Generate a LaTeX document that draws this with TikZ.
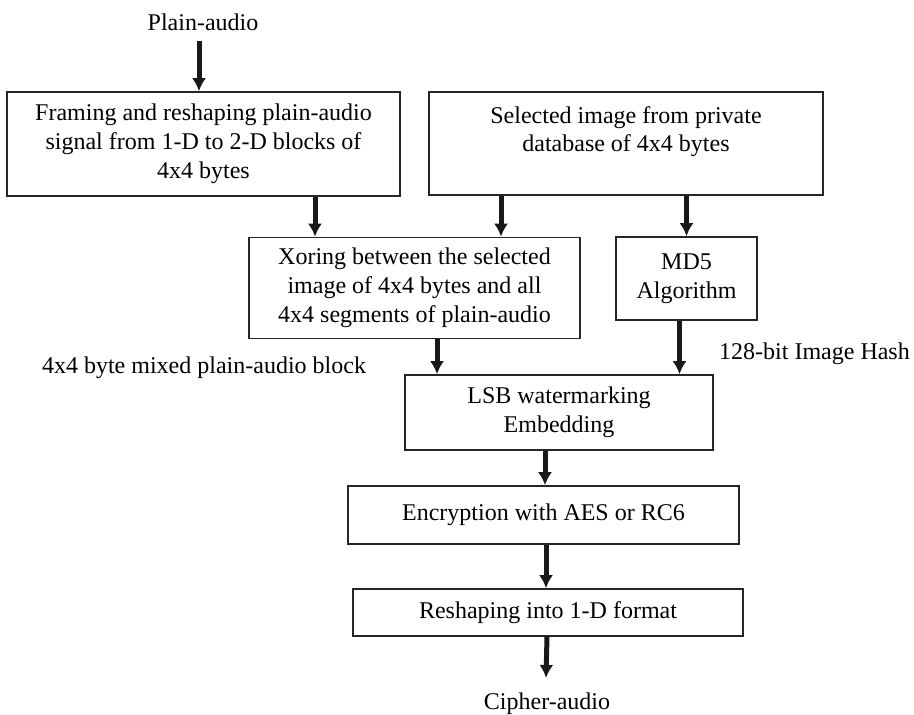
\documentclass[tikz,border=0pt]{standalone}
\usepackage{fontspec}
\setmainfont{Liberation Serif}
\usetikzlibrary{arrows.meta}
\begin{document}
\begin{tikzpicture}[
  box/.style={draw=black!85, line width=1.6bp, inner sep=0pt, align=center,
    font=\fontsize{24bp}{28.8bp}\selectfont},
  lbl/.style={inner sep=0pt, font=\fontsize{24bp}{28.8bp}\selectfont},
  flow/.style={line width=5bp, draw=black!90, -{Latex[length=13bp,width=14bp]}},
]
\useasboundingbox (0bp,0bp) rectangle (914bp,-715bp);
%%
  % Node: plain
  \node[lbl] (plain) at (203bp,-22.4bp) {Plain-audio};
  % Node: frame
  \node[box, minimum width=393bp, minimum height=104bp] (frame) at (203.5bp,-144bp)
    {Framing and reshaping plain-audio\\signal from 1-D to 2-D blocks of\\4x4 bytes};
  % Node: select
  \node[box, minimum width=394bp, minimum height=103bp] (select) at (626bp,-143.5bp)
    {Selected image from private\\database of 4x4 bytes\\~};
  % Node: xor
  \node[box, minimum width=331bp, minimum height=101bp] (xor) at (414.5bp,-288bp)
    {Xoring between the selected\\image of 4x4 bytes and all\\4x4 segments of plain-audio};
  % Node: md5
  \node[box, minimum width=141bp, minimum height=83bp] (md5) at (686.5bp,-278.5bp)
    {MD5\\Algorithm};
  % Node: lsb
  \node[box, minimum width=308bp, minimum height=75bp] (lsb) at (559bp,-412.5bp)
    {LSB watermarking\\Embedding};
  % Node: enc
  \node[box, minimum width=391bp, minimum height=58bp] (enc) at (543.5bp,-515bp)
    {Encryption with AES or RC6};
  % Node: resh
  \node[box, minimum width=390bp, minimum height=47bp] (resh) at (548bp,-612.5bp)
    {Reshaping into 1-D format};
  % Node: cipher
  \node[lbl] (cipher) at (547bp,-704bp) {Cipher-audio};
  % Node: mixed
  \node[lbl, anchor=base] (mixed) at (204bp,-373bp) {4x4 byte mixed plain-audio block};
  % Node: hash
  \node[lbl, anchor=base] (hash) at (814.5bp,-359bp) {128-bit Image Hash};
%
  % Edge: plain -> frame
  \draw[flow] ([xshift=-4bp,yshift=-10bp]plain.south) -- ([xshift=-4bp]plain.south |- frame.north);
  % Edge: frame -> xor
  \draw[flow] ([xshift=111.5bp]frame.south) -- ([xshift=111.5bp]frame.south |- xor.north);
  % Edge: select -> xor
  \draw[flow] ([xshift=-125bp]select.south) -- ([xshift=-125bp]select.south |- xor.north);
  % Edge: select -> md5
  \draw[flow] (select.south -| md5.north) -- (md5.north);
  % Edge: xor -> lsb
  \draw[flow] ([xshift=22.5bp]xor.south) -- ([xshift=22.5bp]xor.south |- lsb.north);
  % Edge: md5 -> lsb
  \draw[flow] ([xshift=-7bp]md5.south) -- ([xshift=-7bp]md5.south |- lsb.north);
  % Edge: lsb -> enc
  \draw[flow] ([xshift=-14bp]lsb.south) -- ([xshift=-14bp]lsb.south |- enc.north);
  % Edge: enc -> resh
  \draw[flow] ([xshift=2.5bp]enc.south) -- ([xshift=2.5bp]enc.south |- resh.north);
  % Edge: resh -> cipher
  \draw[flow] ([xshift=-1bp]resh.south) -- ([xshift=-1bp,yshift=15bp]cipher.north);
%
\end{tikzpicture}
\end{document}
